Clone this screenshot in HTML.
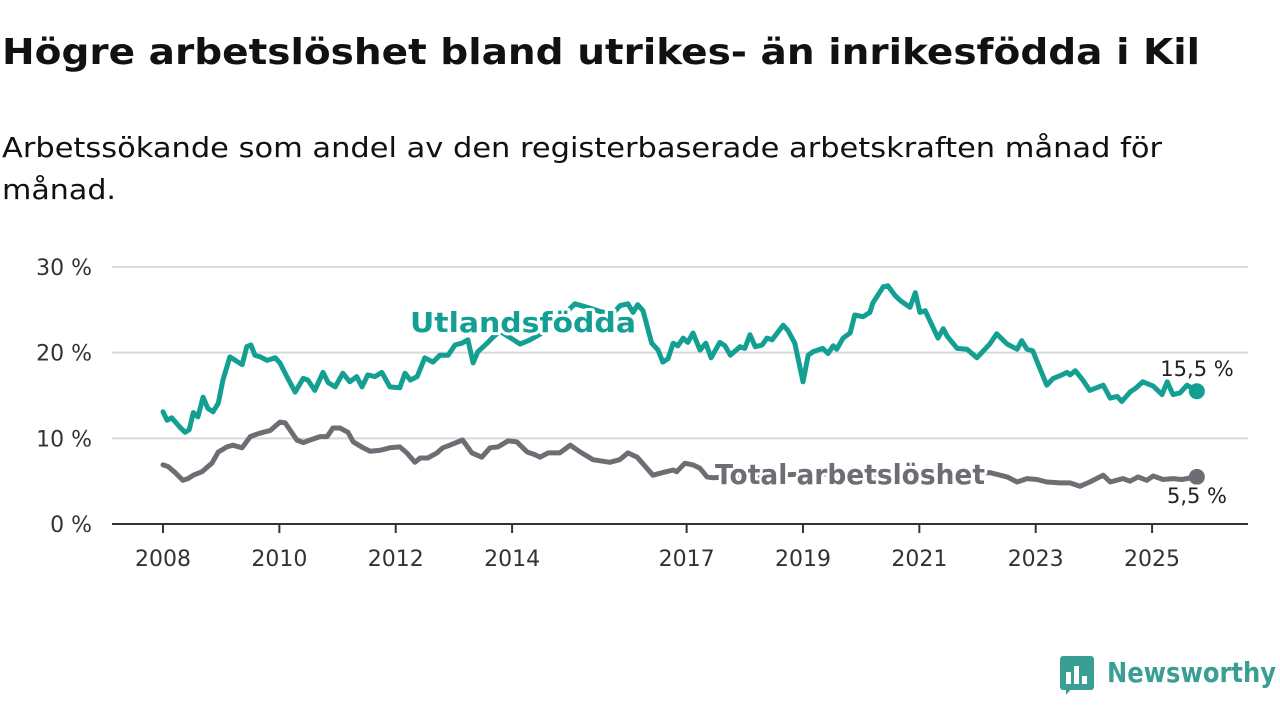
<!DOCTYPE html>
<html><head><meta charset="utf-8"><style>
body{margin:0;background:#fff;width:1280px;height:720px;overflow:hidden;font-family:"DejaVu Sans","Liberation Sans",sans-serif}
svg text{font-family:"DejaVu Sans","Liberation Sans",sans-serif}
</style></head><body>
<svg width="1280" height="720" style="position:absolute;left:0;top:0">
<text x="2" y="64" font-size="36" font-weight="bold" fill="#111" textLength="1198" lengthAdjust="spacingAndGlyphs">Högre arbetslöshet bland utrikes- än inrikesfödda i Kil</text>
<text x="2" y="157" font-size="28" fill="#111" textLength="1160" lengthAdjust="spacingAndGlyphs">Arbetssökande som andel av den registerbaserade arbetskraften månad för</text>
<text x="2" y="199" font-size="28" fill="#111" textLength="114" lengthAdjust="spacingAndGlyphs">månad.</text>
<g id="grid"></g><g id="axes"></g><g id="lines"></g><g id="labels"></g>
<g>
<rect x="1060" y="656" width="34" height="34" rx="3" fill="#3a9e94"/>
<path d="M1066 695 L1072 688 L1066 688 Z" fill="#3a9e94"/>
<rect x="1066" y="672" width="5" height="12" fill="#fff"/><rect x="1074" y="666" width="5" height="18" fill="#fff"/><rect x="1082" y="676" width="5" height="8" fill="#fff"/>
<text x="1107" y="682" font-size="28" font-weight="bold" fill="#3a9e94" textLength="169" lengthAdjust="spacingAndGlyphs">Newsworthy</text>
</g>
</svg>
<script>
const yTicks=[0,10,20,30];
const xTickYears=[2008,2010,2012,2014,2017,2019,2021,2023,2025];
const utlT=[2008.00,2008.07,2008.15,2008.29,2008.38,2008.45,2008.52,2008.60,2008.69,2008.77,2008.86,2008.95,2009.03,2009.15,2009.36,2009.44,2009.51,2009.58,2009.67,2009.79,2009.93,2010.01,2010.13,2010.27,2010.41,2010.49,2010.61,2010.75,2010.84,2010.96,2011.09,2011.21,2011.33,2011.42,2011.52,2011.64,2011.76,2011.90,2012.07,2012.16,2012.25,2012.37,2012.50,2012.64,2012.76,2012.90,2013.02,2013.14,2013.24,2013.33,2013.41,2013.57,2013.67,2013.79,2014.14,2014.31,2014.57,2014.82,2015.08,2015.34,2015.51,2015.72,2015.86,2015.99,2016.08,2016.16,2016.25,2016.40,2016.51,2016.59,2016.68,2016.77,2016.85,2016.94,2017.02,2017.11,2017.23,2017.33,2017.42,2017.57,2017.66,2017.75,2017.92,2018.00,2018.09,2018.18,2018.30,2018.38,2018.47,2018.66,2018.74,2018.86,2019.00,2019.09,2019.17,2019.34,2019.43,2019.52,2019.58,2019.69,2019.81,2019.89,2020.03,2020.15,2020.20,2020.38,2020.46,2020.58,2020.67,2020.84,2020.93,2021.01,2021.10,2021.32,2021.41,2021.48,2021.65,2021.82,2021.99,2022.21,2022.33,2022.51,2022.68,2022.76,2022.85,2022.95,2023.04,2023.19,2023.30,2023.45,2023.54,2023.59,2023.68,2023.81,2023.93,2024.16,2024.28,2024.40,2024.48,2024.62,2024.71,2024.84,2025.02,2025.17,2025.26,2025.36,2025.48,2025.60,2025.77];
const utlV=[13.1,12.1,12.4,11.3,10.7,11.0,13.0,12.5,14.8,13.5,13.1,14.1,16.8,19.5,18.6,20.7,20.9,19.7,19.5,19.1,19.4,18.8,17.2,15.4,17.0,16.8,15.6,17.7,16.5,16.0,17.6,16.6,17.2,16.0,17.4,17.2,17.7,16.0,15.9,17.6,16.8,17.2,19.4,18.9,19.7,19.7,20.9,21.1,21.5,18.8,20.1,21.1,21.8,22.5,21.0,21.5,22.5,24.0,25.7,25.2,24.8,24.5,25.5,25.7,24.7,25.6,24.9,21.1,20.3,18.9,19.3,21.1,20.8,21.7,21.2,22.3,20.3,21.1,19.4,21.2,20.8,19.7,20.7,20.5,22.1,20.7,20.9,21.7,21.5,23.2,22.6,21.1,16.6,19.7,20.1,20.5,19.9,20.8,20.4,21.7,22.3,24.4,24.2,24.7,25.8,27.7,27.8,26.7,26.1,25.3,27.0,24.7,24.9,21.7,22.8,21.9,20.5,20.4,19.4,21.0,22.2,21.0,20.4,21.4,20.4,20.2,18.7,16.2,17.0,17.4,17.7,17.4,17.9,16.8,15.6,16.2,14.7,14.9,14.3,15.4,15.8,16.6,16.1,15.1,16.6,15.1,15.3,16.2,15.5];
const totT=[2008.00,2008.09,2008.21,2008.34,2008.43,2008.52,2008.67,2008.84,2008.95,2009.10,2009.20,2009.36,2009.50,2009.62,2009.72,2009.84,2010.01,2010.10,2010.30,2010.41,2010.53,2010.70,2010.82,2010.92,2011.04,2011.18,2011.27,2011.44,2011.56,2011.73,2011.90,2012.07,2012.19,2012.33,2012.42,2012.55,2012.71,2012.81,2012.93,2013.15,2013.31,2013.48,2013.62,2013.76,2013.93,2014.08,2014.26,2014.39,2014.48,2014.62,2014.82,2015.00,2015.17,2015.39,2015.68,2015.85,2015.99,2016.15,2016.42,2016.59,2016.77,2016.83,2016.97,2017.11,2017.23,2017.35,2017.44,2018.09,2018.95,2019.81,2020.67,2021.53,2022.21,2022.51,2022.68,2022.85,2023.02,2023.19,2023.42,2023.59,2023.76,2023.93,2024.16,2024.28,2024.50,2024.62,2024.76,2024.91,2025.02,2025.19,2025.36,2025.51,2025.77];
const totV=[6.9,6.7,6.0,5.1,5.3,5.7,6.1,7.1,8.4,9.0,9.2,8.9,10.2,10.5,10.7,10.9,11.9,11.8,9.8,9.5,9.8,10.2,10.2,11.2,11.2,10.7,9.6,8.9,8.5,8.6,8.9,9.0,8.3,7.2,7.7,7.7,8.3,8.9,9.2,9.8,8.3,7.8,8.9,9.0,9.7,9.6,8.4,8.1,7.8,8.3,8.3,9.2,8.4,7.5,7.2,7.5,8.3,7.8,5.7,6.0,6.3,6.1,7.1,6.9,6.5,5.5,5.4,5.6,5.8,5.9,5.8,5.8,6.0,5.5,4.9,5.3,5.2,4.9,4.8,4.8,4.4,4.9,5.7,4.9,5.3,5.0,5.5,5.1,5.6,5.2,5.3,5.2,5.5];

const NS='http://www.w3.org/2000/svg';
const X0=112,X1=1248;
const xs=t=>163+(t-2008)*58.18;
const ys=v=>524-v*8.567;
function mk(tag,attrs,parent,txt){const e=document.createElementNS(NS,tag);for(const k in attrs)e.setAttribute(k,attrs[k]);if(txt!==undefined)e.textContent=txt;document.getElementById(parent).appendChild(e);return e;}
yTicks.forEach(v=>{
  if(v>0){const g=mk('line',{x1:X0,x2:X1,y1:ys(v),y2:ys(v),stroke:'#d9d9d9','stroke-width':2},'grid');
  
  }
  const t=mk('text',{x:92,y:ys(v)+8,'font-size':22,'text-anchor':'end',fill:'#333'},'axes',v+' %');
  
  
});
const ax=mk('line',{x1:X0,x2:X1,y1:524,y2:524,stroke:'#333','stroke-width':2},'axes');


xTickYears.forEach(y=>{
  const tk=mk('line',{x1:xs(y),x2:xs(y),y1:524,y2:533,stroke:'#333','stroke-width':2},'axes');
  
  
  const t=mk('text',{x:xs(y),y:566,'font-size':22,'text-anchor':'middle',fill:'#333'},'axes',String(y));
  
  
});
function line(T,V,color,name){
  const d=T.map((t,i)=>(i?'L':'M')+xs(t).toFixed(1)+' '+ys(V[i]).toFixed(1)).join(' ');
  const p=mk('path',{d:d,fill:'none',stroke:color,'stroke-width':5,'stroke-linejoin':'round','stroke-linecap':'round'},'lines');
  
  
  const c=mk('circle',{cx:xs(T[T.length-1]),cy:ys(V[V.length-1]),r:8,fill:color},'lines');
  
  
}
line(totT,totV,'#6e6d73','total');
line(utlT,utlV,'#13a093','utlandsfodda');
function lab(x,y,txt,size,weight,color,name,len){
  const a={x:x,y:y,'font-size':size,'font-weight':weight,fill:color,'text-anchor':'middle',stroke:'#fff','stroke-width':6,'paint-order':'stroke','stroke-linejoin':'round'};
  if(len){a.textLength=len;a.lengthAdjust='spacingAndGlyphs';}
  const t=mk('text',a,'labels',txt);
  
  
}
lab(523,332,'Utlandsfödda',28,'bold','#13a093','series-label-utlandsfodda',226);
lab(850,484,'Total arbetslöshet',28,'bold','#6e6d73','series-label-total',270);
lab(1197,376,'15,5 %',21,'normal','#222','end-label-utlandsfodda');
lab(1197,503,'5,5 %',21,'normal','#222','end-label-total');
</script>
</body></html>
